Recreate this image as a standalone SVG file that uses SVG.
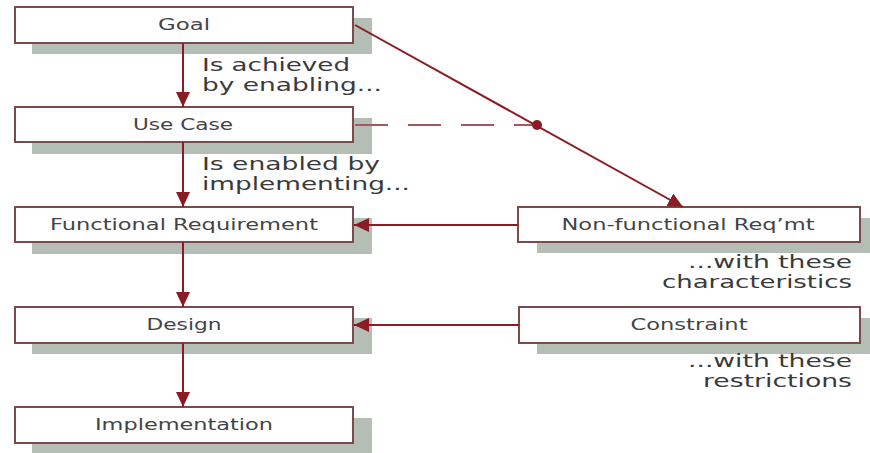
<svg xmlns="http://www.w3.org/2000/svg" width="870" height="453" viewBox="0 0 870 453">
<style>
.shadow{fill:#b5beb5}
.box{fill:#ffffff;stroke:#7d4a4c;stroke-width:2}
.lbl{font-family:"DejaVu Sans","Verdana",sans-serif;font-size:16px;fill:#444444;text-anchor:middle}
.note{font-family:"DejaVu Sans","Verdana",sans-serif;font-size:18px;fill:#3a3a3a}
.line{stroke:#8b1c24;stroke-width:2;fill:none}
.dash{stroke:#a35a5e;stroke-width:2;fill:none;stroke-dasharray:33 20}
</style>
<defs>
<marker id="arr" markerUnits="userSpaceOnUse" markerWidth="16" markerHeight="14" refX="15" refY="7" orient="auto">
<path d="M0,0 L15,7 L0,14 Z" fill="#8b1c24"/>
</marker>
</defs>
<rect x="0" y="0" width="870" height="453" fill="#ffffff"/>
<g id="goal">
<rect class="shadow" x="32" y="18" width="340" height="36"/>
<rect class="box" x="15" y="7" width="338" height="36"/>
<text class="lbl" x="184" y="30" textLength="52" lengthAdjust="spacingAndGlyphs">Goal</text>
</g>
<g id="usecase">
<rect class="shadow" x="32" y="118" width="340" height="36"/>
<rect class="box" x="15" y="107" width="338" height="35"/>
<text class="lbl" x="183" y="130" textLength="100" lengthAdjust="spacingAndGlyphs">Use Case</text>
</g>
<g id="functional">
<rect class="shadow" x="32" y="218" width="340" height="36"/>
<rect class="box" x="15" y="207" width="338" height="35"/>
<text class="lbl" x="184" y="230" textLength="268" lengthAdjust="spacingAndGlyphs">Functional Requirement</text>
</g>
<g id="design">
<rect class="shadow" x="32" y="318" width="340" height="36"/>
<rect class="box" x="15" y="307" width="338" height="36"/>
<text class="lbl" x="184" y="330" textLength="75" lengthAdjust="spacingAndGlyphs">Design</text>
</g>
<g id="implementation">
<rect class="shadow" x="32" y="418" width="340" height="36"/>
<rect class="box" x="15" y="407" width="338" height="36"/>
<text class="lbl" x="184" y="430" textLength="178" lengthAdjust="spacingAndGlyphs">Implementation</text>
</g>
<g id="nonfunctional">
<rect class="shadow" x="537" y="218" width="340" height="35"/>
<rect class="box" x="518" y="207" width="342" height="35"/>
<text class="lbl" x="688" y="230" textLength="253" lengthAdjust="spacingAndGlyphs">Non-functional Req’mt</text>
</g>
<g id="constraint">
<rect class="shadow" x="537" y="318" width="340" height="36"/>
<rect class="box" x="519" y="307" width="341" height="36"/>
<text class="lbl" x="689" y="330" textLength="117" lengthAdjust="spacingAndGlyphs">Constraint</text>
</g>
<g id="connectors">
<line class="line" x1="183" y1="43" x2="183" y2="107" marker-end="url(#arr)"/>
<line class="line" x1="183" y1="142" x2="183" y2="207" marker-end="url(#arr)"/>
<line class="line" x1="183" y1="242" x2="183" y2="307" marker-end="url(#arr)"/>
<line class="line" x1="183" y1="343" x2="183" y2="407" marker-end="url(#arr)"/>
<line class="line" x1="518" y1="225" x2="354" y2="225" marker-end="url(#arr)"/>
<line class="line" x1="519" y1="325" x2="354" y2="325" marker-end="url(#arr)"/>
<line class="line" x1="355" y1="25" x2="683" y2="207" marker-end="url(#arr)"/>
<line class="dash" x1="355" y1="125" x2="537" y2="125"/>
<circle cx="537" cy="125" r="5" fill="#8b1c24"/>
</g>
<g id="labels">
<text class="note" x="202" y="71" textLength="148" lengthAdjust="spacingAndGlyphs">Is achieved</text>
<text class="note" x="202" y="91" textLength="180" lengthAdjust="spacingAndGlyphs">by enabling...</text>
<text class="note" x="202" y="170" textLength="178" lengthAdjust="spacingAndGlyphs">Is enabled by</text>
<text class="note" x="202" y="190" textLength="208" lengthAdjust="spacingAndGlyphs">implementing...</text>
<text class="note" x="688" y="268" textLength="164" lengthAdjust="spacingAndGlyphs">...with these</text>
<text class="note" x="662" y="288" textLength="190" lengthAdjust="spacingAndGlyphs">characteristics</text>
<text class="note" x="688" y="367" textLength="164" lengthAdjust="spacingAndGlyphs">...with these</text>
<text class="note" x="703" y="387" textLength="149" lengthAdjust="spacingAndGlyphs">restrictions</text>
</g>
</svg>
